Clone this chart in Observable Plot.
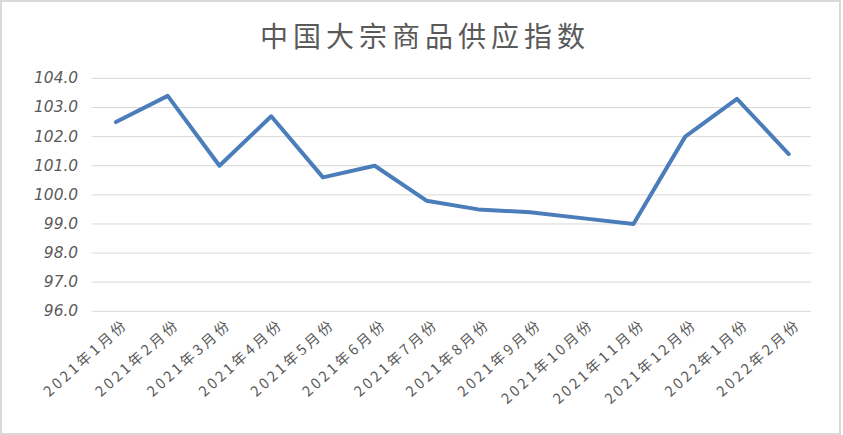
<!DOCTYPE html>
<html>
<head>
<meta charset="utf-8">
<script src="https://cdn.jsdelivr.net/npm/d3@7"></script>
<script src="https://cdn.jsdelivr.net/npm/@observablehq/plot@0.6"></script>
<style>
  html, body { margin: 0; padding: 0; background: #fff; }
  #chart { width: 841px; height: 435px; box-sizing: border-box; border: 2px solid #d9d9d9; position: relative; overflow: hidden; }
  #title { position: absolute; left: 0; top: 13px; width: 841px; text-align: center; font-family: "Noto Sans CJK SC", sans-serif; font-size: 28px; letter-spacing: 5px; text-indent: 5px; line-height: 40px; color: #595959; }
  #plot { position: absolute; left: -2px; top: 56px; }
  #plot g[aria-label="x-axis tick label"] text { letter-spacing: 3px; }
</style>
</head>
<body>
<div id="chart">
  <div id="title">中国大宗商品供应指数</div>
  <div id="plot"></div>
</div>
<script>
const months = ["2021年1月份","2021年2月份","2021年3月份","2021年4月份","2021年5月份","2021年6月份","2021年7月份","2021年8月份","2021年9月份","2021年10月份","2021年11月份","2021年12月份","2022年1月份","2022年2月份"];
const values = [102.5, 103.4, 101.0, 102.7, 100.6, 101.0, 99.8, 99.5, 99.4, 99.2, 99.0, 102.0, 103.3, 101.4];
const yTicks = [96, 97, 98, 99, 100, 101, 102, 103, 104];

const data = months.map((m, i) => ({month: m, value: values[i]}));

const chart = Plot.plot({
  width: 843,
  height: 379,
  marginLeft: 92,
  marginRight: 28,
  marginTop: 20,
  marginBottom: 125,
  x: {type: "point", domain: months, padding: 0.45, label: null},
  y: {domain: [96, 104], ticks: yTicks, label: null},
  style: {fontFamily: "'Noto Sans CJK SC', 'DejaVu Sans', sans-serif", background: "transparent", overflow: "visible"},
  marks: [
    Plot.gridY(yTicks, {stroke: "#d9d9d9", strokeOpacity: 1, strokeWidth: 1}),
    Plot.axisY(yTicks, {tickSize: 0, tickPadding: 14, tickFormat: d => d.toFixed(1), fontSize: 15.5, fontStyle: "italic", fill: "#595959", fontFamily: "'DejaVu Sans', sans-serif", label: null}),
    Plot.axisX({tickSize: 0, tickRotate: -42, tickPadding: 11, dx: 10, fontSize: 14.5, fill: "#595959", label: null}),
    Plot.line(data, {x: "month", y: "value", stroke: "#4a7dba", strokeWidth: 4, strokeLinejoin: "round"})
  ]
});
document.getElementById("plot").appendChild(chart);
</script>
</body>
</html>
